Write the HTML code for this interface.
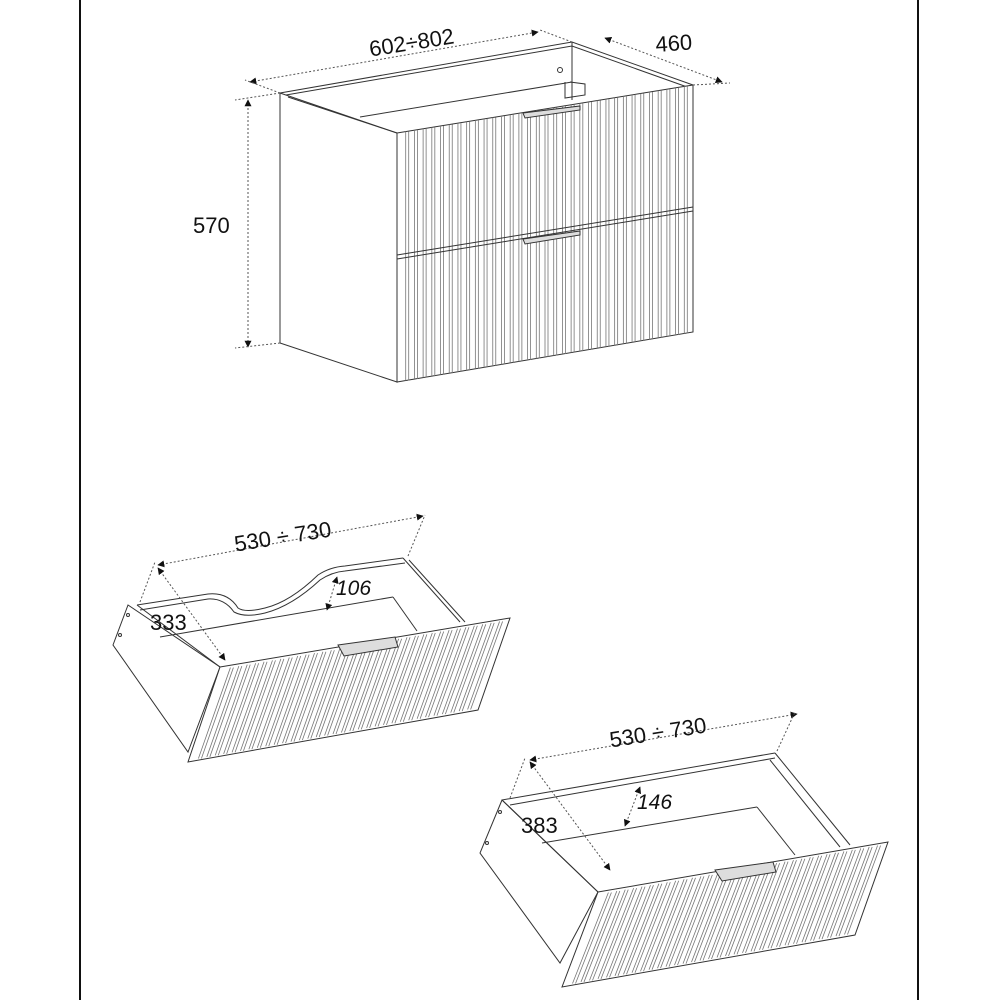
<!DOCTYPE html>
<html><head><meta charset="utf-8"><style>
html,body{margin:0;padding:0;background:#fff;}
svg{display:block;}
text{font-family:"Liberation Sans",sans-serif;fill:#111;}
</style></head><body>
<svg id="s" width="1000" height="1000" viewBox="0 0 1000 1000" xmlns="http://www.w3.org/2000/svg">
<defs><marker id="a" viewBox="0 0 10 10" refX="9" refY="5" markerWidth="7" markerHeight="7" orient="auto-start-reverse"><path d="M0,0 L10,5 L0,10 z" fill="#111"/></marker></defs>
<line x1="80" y1="0" x2="80" y2="1000" stroke="#111" stroke-width="2"/>
<line x1="918" y1="0" x2="918" y2="1000" stroke="#111" stroke-width="2"/>
<g fill="none" stroke="#333" stroke-width="1">
<polygon points="280,93 397,133 397,382 280,343" fill="#fff"/>
<polyline points="280,93 572,42 693,85"/>
<polyline points="286,95 572,46 690,88"/>
<line x1="572" y1="42" x2="572" y2="100"/>
<line x1="360" y1="117" x2="572" y2="82"/>
<polyline points="288,97 397,133"/>
<circle cx="560" cy="70" r="2.5"/>
<polyline points="565,82 565,98 585,95 585,84 570,82"/>
<polygon points="397,133 693,85 693,332 397,382" fill="#fff"/>
<g id="cf" stroke="#777" stroke-width="0.8"></g>
<line x1="397" y1="255" x2="693" y2="207"/>
<line x1="397" y1="259" x2="693" y2="211"/>
<polygon points="523,113 580,106 580,110 525,118" fill="#ddd"/>
<polygon points="523,239 580,231 580,235 525,244" fill="#ddd"/>
<polygon points="128,605 113,645 188,752 220,667" fill="#fff"/>
<line x1="137" y1="605" x2="220" y2="667"/>
<path d="M137,605 L208,594 Q228,592 238,608 Q245,613 265,608 Q290,602 318,575 Q330,567 345,566 L403,558" />
<path d="M140,610 L208,599 Q224,598 234,612 Q245,618 265,613 Q292,606 320,580 Q332,572 345,571 L405,563"/>
<polyline points="403,558 460,622"/>
<polyline points="409,560 465,622"/>
<line x1="160" y1="637" x2="393" y2="597"/>
<line x1="393" y1="597" x2="417" y2="631"/>
<circle cx="128" cy="615" r="1.5"/><circle cx="120" cy="635" r="1.5"/>
<polygon points="220,667 510,618 478,710 188,762" fill="#fff"/>
<g id="d1" stroke="#777" stroke-width="0.8"></g>
<polygon points="338,645 395,637 398,647 344,656" fill="#ddd"/>
<polygon points="502,800 480,853 560,963 598,892" fill="#fff"/>
<line x1="502" y1="800" x2="598" y2="892"/>
<line x1="502" y1="800" x2="775" y2="753"/>
<line x1="510" y1="805" x2="775" y2="758"/>
<line x1="775" y1="753" x2="850" y2="845"/>
<line x1="770" y1="760" x2="840" y2="847"/>
<line x1="542" y1="843" x2="757" y2="807"/>
<line x1="757" y1="807" x2="795" y2="855"/>
<circle cx="500" cy="812" r="1.5"/><circle cx="487" cy="843" r="1.5"/>
<polygon points="598,892 888,842 855,935 562,987" fill="#fff"/>
<g id="d2" stroke="#777" stroke-width="0.8"></g>
<polygon points="715,870 773,862 776,872 722,881" fill="#ddd"/>
</g>
<g stroke="#555" stroke-width="1" stroke-dasharray="2,2" fill="none">
<line x1="250" y1="82" x2="538" y2="32" marker-start="url(#a)" marker-end="url(#a)"/>
<line x1="280" y1="93" x2="245" y2="80"/>
<line x1="572" y1="42" x2="540" y2="30"/>
<line x1="605" y1="38" x2="722" y2="82" marker-start="url(#a)" marker-end="url(#a)"/>
<line x1="693" y1="85" x2="730" y2="83"/>
<line x1="248" y1="100" x2="248" y2="347" marker-start="url(#a)" marker-end="url(#a)"/>
<line x1="280" y1="93" x2="235" y2="100"/>
<line x1="280" y1="343" x2="235" y2="348"/>
<line x1="158" y1="565" x2="423" y2="516" marker-start="url(#a)" marker-end="url(#a)"/>
<line x1="140" y1="602" x2="155" y2="562"/>
<line x1="408" y1="556" x2="425" y2="515"/>
<line x1="158" y1="568" x2="225" y2="660" marker-start="url(#a)" marker-end="url(#a)"/>
<line x1="337" y1="577" x2="327" y2="610" marker-start="url(#a)" marker-end="url(#a)"/>
<line x1="530" y1="760" x2="797" y2="714" marker-start="url(#a)" marker-end="url(#a)"/>
<line x1="510" y1="798" x2="525" y2="758"/>
<line x1="777" y1="751" x2="795" y2="712"/>
<line x1="530" y1="762" x2="610" y2="870" marker-start="url(#a)" marker-end="url(#a)"/>
<line x1="640" y1="787" x2="625" y2="826" marker-start="url(#a)" marker-end="url(#a)"/>
</g>
<text x="412" y="50" font-size="22" text-anchor="middle" transform="rotate(-9 412 45)">602÷802</text>
<text x="656" y="52" font-size="22" transform="rotate(-4 656 52)">460</text>
<text x="193" y="233" font-size="22">570</text>
<text x="283" y="544" font-size="22" text-anchor="middle" transform="rotate(-9 283 538)">530 ÷ 730</text>
<text x="150" y="630" font-size="22">333</text>
<text x="336" y="595" font-size="21" font-style="italic">106</text>
<text x="658" y="740" font-size="22" text-anchor="middle" transform="rotate(-9 658 733)">530 ÷ 730</text>
<text x="521" y="833" font-size="22">383</text>
<text x="637" y="809" font-size="21" font-style="italic">146</text>
</svg>
<script>
function fl(id,TL,TR,BR,BL,n,pair){
 var g=document.getElementById(id),h='';
 for(var i=1;i<n;i++){var t=i/n;
  var x1=TL[0]+(TR[0]-TL[0])*t,y1=TL[1]+(TR[1]-TL[1])*t,x2=BL[0]+(BR[0]-BL[0])*t,y2=BL[1]+(BR[1]-BL[1])*t;
  h+='<line x1="'+x1+'" y1="'+y1+'" x2="'+x2+'" y2="'+y2+'"/>';
  if(pair){h+='<line x1="'+(x1+pair)+'" y1="'+y1+'" x2="'+(x2+pair)+'" y2="'+y2+'"/>';}
 }
 g.innerHTML=h;
}
fl('cf',[397,133],[693,85],[693,332],[397,382],34,3);
fl('d1',[222,669],[508,620],[476,708],[190,760],34,3);
fl('d2',[600,894],[886,844],[853,933],[564,985],34,3);
</script>
</body></html>
